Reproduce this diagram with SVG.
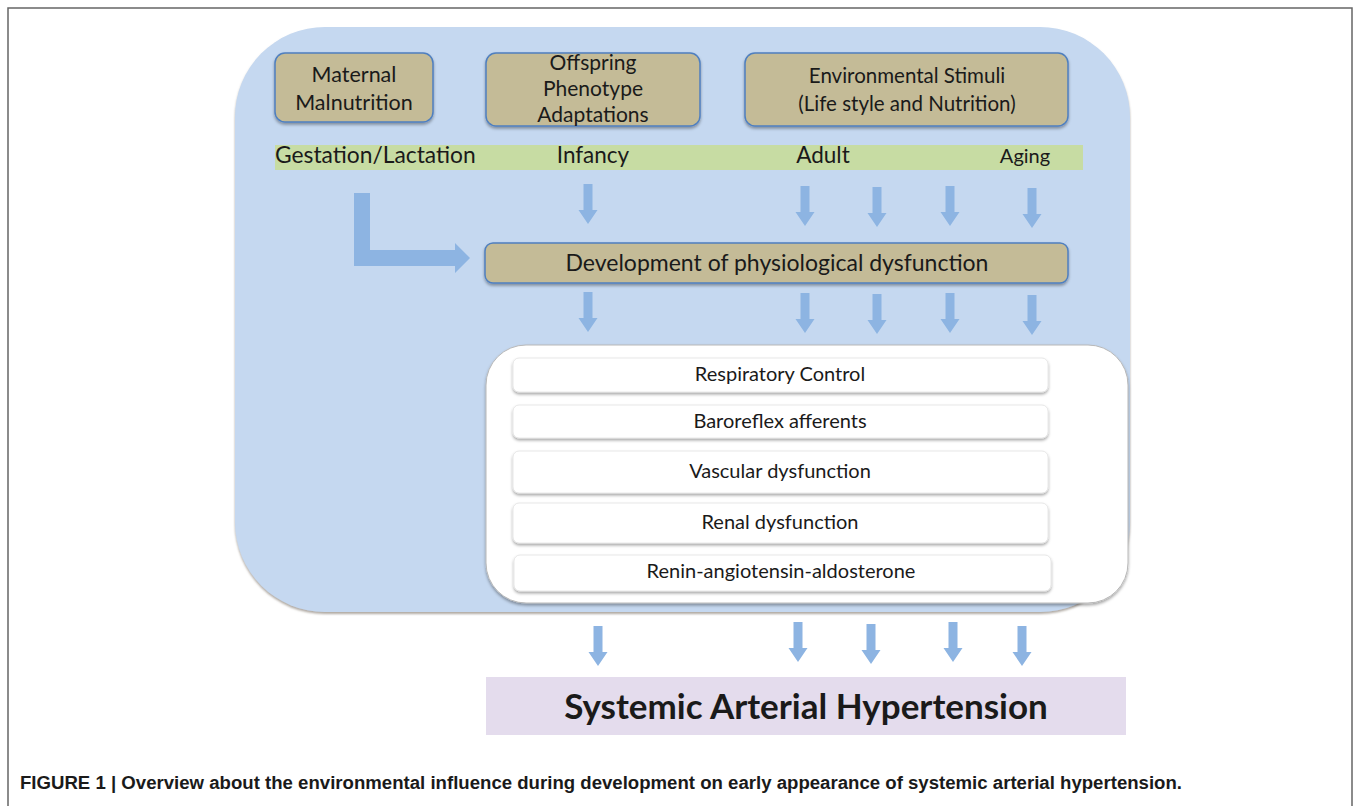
<svg xmlns="http://www.w3.org/2000/svg" xmlns:xlink="http://www.w3.org/1999/xlink" width="1358" height="806" viewBox="0 0 1358 806">
<defs>
<style>
.t{font-family:Lato,"Open Sans","DejaVu Sans",sans-serif;fill:#1a1a1a;text-anchor:middle}
.tan{fill:#c4bb97;stroke:#4f7fbf;stroke-width:1.5}
.row{fill:#ffffff;stroke:#e2e2e2;stroke-width:0.8}
.arr{fill:#8db4e2}
.cap{font-family:"Liberation Sans",Arial,sans-serif;font-weight:bold;font-size:18px;fill:#1a1a1a}
</style>
<filter id="sh" x="-5%" y="-10%" width="110%" height="140%">
<feDropShadow dx="0" dy="2" stdDeviation="1.5" flood-color="#000" flood-opacity="0.35"/>
</filter>
<filter id="shb" x="-5%" y="-5%" width="110%" height="110%">
<feDropShadow dx="0" dy="2" stdDeviation="1.2" flood-color="#7a6f66" flood-opacity="0.6"/>
</filter>
<path id="ar" d="M-4.5,0 H4.5 V26 H9.5 L0,40 L-9.5,26 H-4.5 Z"/>
</defs>
<rect width="1358" height="806" fill="#ffffff"/>
<path d="M8,806 V8 H1352 V806" fill="none" stroke="#666" stroke-width="1.5"/>

<g id="background">
<rect x="235" y="27" width="895" height="585" rx="90" fill="#c5d8f0" filter="url(#shb)"/>
</g>

<g id="maternal">
<rect class="tan" x="275" y="53" width="158" height="69" rx="10" filter="url(#sh)"/>
<text class="t" x="354" y="82" font-size="21.5">Maternal</text>
<text class="t" x="354" y="110" font-size="21.5">Malnutrition</text>
</g>
<g id="offspring">
<rect class="tan" x="486" y="53" width="214" height="73" rx="10" filter="url(#sh)"/>
<text class="t" x="593" y="70" font-size="21">Offspring</text>
<text class="t" x="593" y="96" font-size="21">Phenotype</text>
<text class="t" x="593" y="122" font-size="21">Adaptations</text>
</g>
<g id="environmental">
<rect class="tan" x="745" y="53" width="323" height="73" rx="10" filter="url(#sh)"/>
<text class="t" x="907" y="83" font-size="20.5">Environmental Stimuli</text>
<text class="t" x="907" y="111" font-size="20.5">(Life style and Nutrition)</text>
</g>

<g id="timeline">
<rect x="275" y="145" width="808" height="25" fill="#c7dca3"/>
<text class="t" x="275" y="163" font-size="22.8" style="text-anchor:start">Gestation/Lactation</text>
<text class="t" x="593" y="163" font-size="22.5">Infancy</text>
<text class="t" x="823" y="163" font-size="22.5">Adult</text>
<text class="t" x="1025" y="163" font-size="20">Aging</text>
</g>

<g id="development">
<rect class="tan" x="485" y="243" width="583" height="40" rx="8" filter="url(#sh)"/>
<text class="t" x="777" y="271" font-size="23">Development of physiological dysfunction</text>
</g>

<g id="mechanisms">
<rect x="486" y="345" width="642" height="258" rx="40" fill="#ffffff" stroke="#b8b8b8" stroke-width="1" filter="url(#sh)"/>
<g id="respiratory">
<rect class="row" x="513" y="358" width="535" height="34" rx="6" filter="url(#sh)"/>
<text class="t" x="780" y="381" font-size="20">Respiratory Control</text>
</g>
<g id="baroreflex">
<rect class="row" x="513" y="405" width="535" height="33" rx="6" filter="url(#sh)"/>
<text class="t" x="780" y="428" font-size="20">Baroreflex afferents</text>
</g>
<g id="vascular">
<rect class="row" x="513" y="451" width="535" height="42" rx="6" filter="url(#sh)"/>
<text class="t" x="780" y="478" font-size="20">Vascular dysfunction</text>
</g>
<g id="renal">
<rect class="row" x="513" y="503" width="535" height="40" rx="6" filter="url(#sh)"/>
<text class="t" x="780" y="529" font-size="20">Renal dysfunction</text>
</g>
<g id="raas">
<rect class="row" x="514" y="555" width="537" height="36" rx="6" filter="url(#sh)"/>
<text class="t" x="781" y="578" font-size="20">Renin-angiotensin-aldosterone</text>
</g>
</g>

<g id="hypertension">
<rect x="486" y="677" width="640" height="58" fill="#e4dced"/>
<text class="t" x="806" y="719" font-size="35" font-weight="bold">Systemic Arterial Hypertension</text>
</g>

<g id="connectors" class="arr">
<path d="M354,193 H370 V250 H455 V243 L470,258 L455,273 V266 H354 Z"/>
<use xlink:href="#ar" x="588" y="184"/>
<use xlink:href="#ar" x="805" y="186"/>
<use xlink:href="#ar" x="877" y="187"/>
<use xlink:href="#ar" x="950" y="186"/>
<use xlink:href="#ar" x="1032" y="188"/>
<use xlink:href="#ar" x="588" y="292"/>
<use xlink:href="#ar" x="805" y="293"/>
<use xlink:href="#ar" x="877" y="294"/>
<use xlink:href="#ar" x="950" y="293"/>
<use xlink:href="#ar" x="1032" y="295"/>
<use xlink:href="#ar" x="598" y="626"/>
<use xlink:href="#ar" x="798" y="622"/>
<use xlink:href="#ar" x="871" y="624"/>
<use xlink:href="#ar" x="953" y="622"/>
<use xlink:href="#ar" x="1022" y="626"/>
</g>

<g id="caption">
<text class="cap" x="20" y="789" textLength="1162" lengthAdjust="spacingAndGlyphs">FIGURE 1 | Overview about the environmental influence during development on early appearance of systemic arterial hypertension.</text>
</g>
</svg>
